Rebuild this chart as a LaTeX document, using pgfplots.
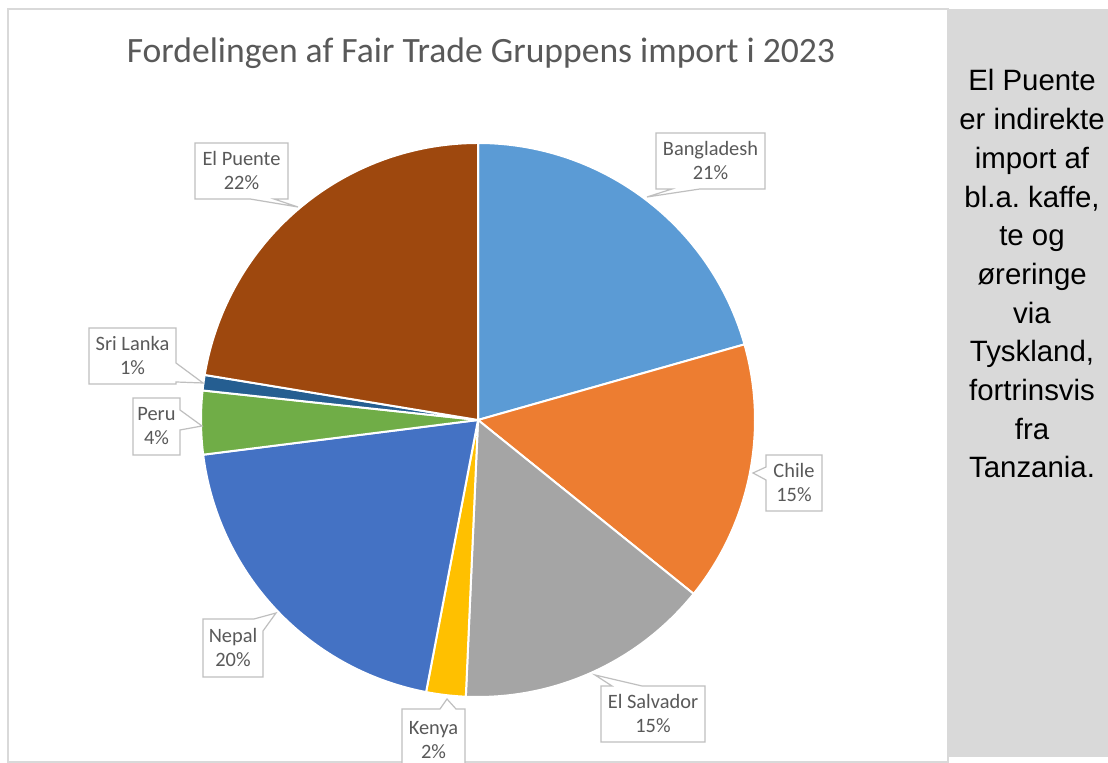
\documentclass[border=0pt]{standalone}
\usepackage{pgfplots}
\pgfplotsset{compat=1.18}
\usepackage{fontspec}
\setmainfont{Carlito}
\newfontfamily\arial{Liberation Sans}
\frenchspacing

\definecolor{cBangladesh}{HTML}{5B9BD5}
\definecolor{cChile}{HTML}{ED7D31}
\definecolor{cSalvador}{HTML}{A5A5A5}
\definecolor{cKenya}{HTML}{FFC000}
\definecolor{cNepal}{HTML}{4472C4}
\definecolor{cPeru}{HTML}{70AD47}
\definecolor{cSriLanka}{HTML}{255E91}
\definecolor{cPuente}{HTML}{9E480E}
\definecolor{txtgray}{HTML}{595959}
\definecolor{boxgray}{HTML}{BFBFBF}
\definecolor{framegray}{HTML}{D9D9D9}
\definecolor{panelgray}{HTML}{D9D9D9}

% one pie slice: colour, cumulative share before it, its share (percent)
% centre (478,343), radius 277, clockwise from 12 o'clock
\newcommand{\slice}[3]{%
  \addplot[fill=#1, draw=white, line width=1pt, line join=round,
    domain=90-3.6*(#2+#3):90-3.6*#2, samples=90, variable=\t]
    ({478+277*cos(\t)}, {343+277*sin(\t)}) -- (axis cs:478,343) -- cycle;}

\tikzset{call/.style={fill=white, draw=boxgray, line width=0.6pt, line join=miter},
  lab/.style={text=txtgray, align=center, font=\fontsize{10.2}{12}\selectfont}}

\begin{document}
\begin{tikzpicture}
\useasboundingbox (0,0) rectangle (554pt,381.5pt);
\begin{scope}[x=0.5pt,y=0.5pt]
  \fill[white] (0,0) rectangle (1108,763);
  \draw[framegray, line width=1pt] (8,1) rectangle (948,754);
  \fill[panelgray] (948,6) rectangle (1108,754);
  \node[anchor=base, text=txtgray, font=\fontsize{17.8}{21}\selectfont] at (481,700)
    {Fordelingen af Fair Trade Gruppens import i 2023};
  \foreach \line [count=\i] in {El Puente, er indirekte, import af, {bl.a. kaffe,}, te og,
      øreringe, via, {Tyskland,}, fortrinsvis, fra, Tanzania.}
    \node[anchor=base, font=\arial\fontsize{14.7}{17}\selectfont] at (1032,{672-38.7*(\i-1)}) {\line};
\end{scope}

\begin{axis}[at={(0,0)}, anchor=south west, scale only axis,
  width=554pt, height=381.5pt, xmin=0, xmax=1108, ymin=0, ymax=763,
  hide axis, clip=false]
\slice{cBangladesh}{0}{20.6}
\slice{cChile}{20.6}{15.2}
\slice{cSalvador}{35.8}{14.9}
\slice{cKenya}{50.7}{2.3}
\slice{cNepal}{53.0}{20.0}
\slice{cPeru}{73.0}{3.7}
\slice{cSriLanka}{76.7}{0.9}
\slice{cPuente}{77.6}{22.4}

% callouts
\draw[call] (195,620) -- (288,620) -- (288,564) -- (274,564) -- (298,556) -- (250,564) -- (195,564) -- cycle;
\node[lab] at (241.5,592) {El Puente\\22\%};
\draw[call] (656,630) -- (765,630) -- (765,574) -- (700,574) -- (647,566) -- (672,574) -- (656,574) -- cycle;
\node[lab] at (710.5,602) {Bangladesh\\21\%};
\draw[call] (766,308) -- (822,308) -- (822,252) -- (766,252) -- (766,283) -- (753,290) -- (766,296) -- cycle;
\node[lab] at (794,280) {Chile\\15\%};
\draw[call] (601,77) -- (612,77) -- (595,88) -- (642,77) -- (705,77) -- (705,21) -- (601,21) -- cycle;
\node[lab] at (653,49) {El Salvador\\15\%};
\draw[call] (402,54) -- (440,54) -- (447,64) -- (456,54) -- (465,54) -- (465,-6) -- (402,-6) -- cycle;
\node[lab] at (433.5,23) {Kenya\\2\%};
\draw[call] (89,435) -- (176,435) -- (176,400) -- (203,380) -- (176,381) -- (176,379) -- (89,379) -- cycle;
\node[lab] at (132.5,407) {Sri Lanka\\1\%};
\draw[call] (133,365) -- (180,365) -- (180,353) -- (202,337) -- (180,333) -- (180,308) -- (133,308) -- cycle;
\node[lab] at (156.5,336.5) {Peru\\4\%};
\draw[call] (203,144) -- (254,144) -- (276,150) -- (263,132) -- (263,86) -- (203,86) -- cycle;
\node[lab] at (233,115) {Nepal\\20\%};
\end{axis}
\end{tikzpicture}
\end{document}
